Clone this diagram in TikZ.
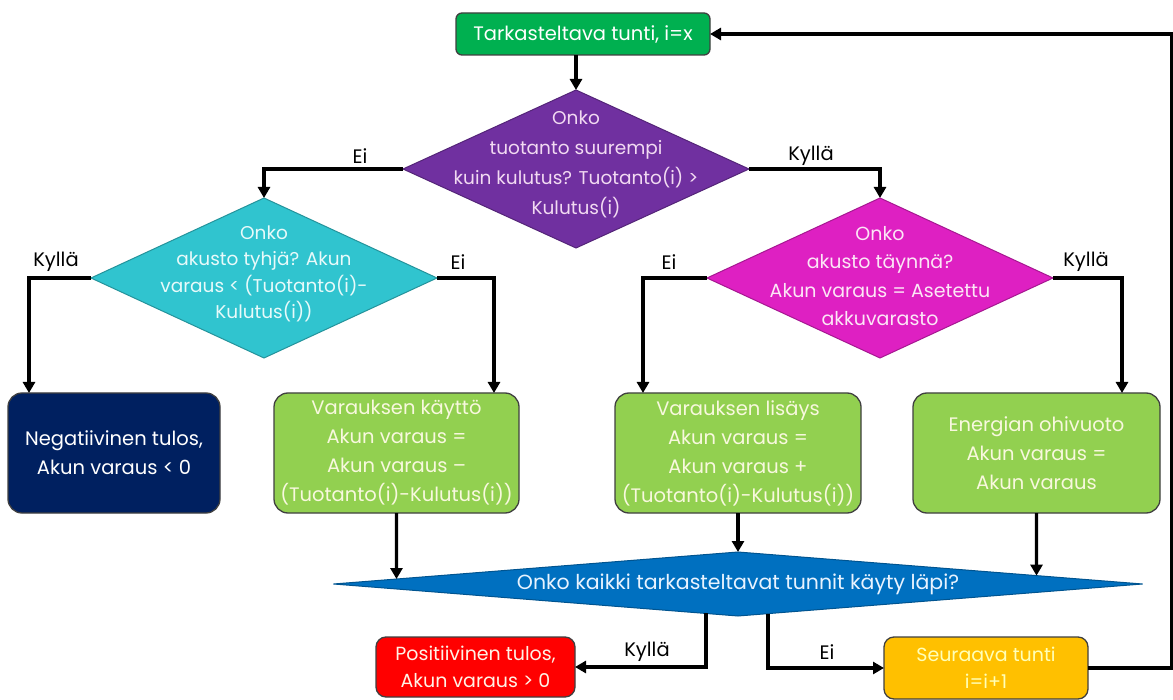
\documentclass[tikz,border=0pt]{standalone}
\usepackage{fontspec}
\setmainfont{Poppins}
\usetikzlibrary{shapes.geometric,arrows.meta,calc}
\definecolor{cStart}{HTML}{00B050}
\definecolor{cPurple}{HTML}{7030A0}
\definecolor{cCyan}{HTML}{30C4CF}
\definecolor{cPink}{HTML}{DE20C2}
\definecolor{cNavy}{HTML}{002060}
\definecolor{cLGreen}{HTML}{92D050}
\definecolor{cBlue}{HTML}{0070C0}
\definecolor{cRed}{HTML}{FF0000}
\definecolor{cOrange}{HTML}{FFC000}
\definecolor{tPurple}{HTML}{F2DAF2}
\definecolor{tCyan}{HTML}{E8FAFA}
\definecolor{tPink}{HTML}{FCE6F6}
\definecolor{tGreen}{HTML}{F8F8DE}
\definecolor{tRed}{HTML}{FFF2E6}
\definecolor{tOrange}{HTML}{FFFFB8}
\definecolor{tBlue}{HTML}{E8F3FF}
\begin{document}
\begin{tikzpicture}[x=1pt,y=-1pt,
  font=\fontsize{19.5}{29}\selectfont,
  arr/.style={line width=3.2pt, line join=miter, -{Triangle[length=11pt,width=12pt]}},
  box/.style={rectangle, rounded corners=14pt, draw=black!75, line width=1.3pt,
              inner sep=0pt, outer sep=0pt, align=center},
  dia/.style={diamond, inner sep=0pt, outer sep=0pt, draw=#1!75!black, fill=#1, line width=1pt},
  dtxt/.style={align=center, inner sep=0pt},
  lbl/.style={text=black, inner sep=0pt}]
\useasboundingbox (0,0) rectangle (1173,700);
\fill[white] (0,0) rectangle (1173,700);

% nodes
\node[box, fill=cStart, text=white, rounded corners=6pt, minimum width=254pt, minimum height=42pt] (start) at (583,34) {Tarkasteltava tunti, i=x};

\node[dia=cPurple, minimum width=346pt, minimum height=158pt] (d1) at (576,169) {};
\node[dtxt, text=tPurple, font=\fontsize{18.5}{30}\selectfont] (t1) at (576,164) {Onko\\tuotanto suurempi\\kuin kulutus? Tuotanto(i) >\\Kulutus(i)};

\node[dia=cCyan, minimum width=346pt, minimum height=160pt] (d2) at (264,278) {};
\node[dtxt, text=tCyan, font=\fontsize{18.5}{26.5}\selectfont] (t2) at (264,274) {Onko\\akusto tyhjä? Akun\\varaus < (Tuotanto(i)-\\Kulutus(i))};

\node[dia=cPink, minimum width=346pt, minimum height=160pt] (d3) at (880,278) {};
\node[dtxt, text=tPink, font=\fontsize{19}{28.5}\selectfont] (t3) at (880,276) {Onko\\akusto täynnä?\\Akun varaus = Asetettu\\akkuvarasto};

\node[box, fill=cNavy, text=white, minimum width=212pt, minimum height=120pt] (neg) at (114,453) {Negatiivinen tulos,\\Akun varaus < 0};

\node[box, fill=cLGreen, text=tGreen, minimum width=245pt, minimum height=120pt] (b1) at (396.5,453) {Varauksen käyttö\\Akun varaus =\\Akun varaus –\\(Tuotanto(i)-Kulutus(i))};

\node[box, fill=cLGreen, text=tGreen, minimum width=246pt, minimum height=120pt] (b2) at (738,453) {Varauksen lisäys\\Akun varaus =\\Akun varaus +\\(Tuotanto(i)-Kulutus(i))};

\node[box, fill=cLGreen, text=tGreen, minimum width=247pt, minimum height=120pt] (b3) at (1036.5,453) {Energian ohivuoto\\Akun varaus =\\Akun varaus};

\node[dia=cBlue, minimum width=809pt, minimum height=64pt] (d4) at (738,584) {};
\node[dtxt, text=tBlue, font=\fontsize{20.5}{29}\selectfont] (t4) at (738,584) {Onko kaikki tarkasteltavat tunnit käyty läpi?};

\node[box, fill=cRed, text=tRed, rounded corners=10pt, minimum width=199pt, minimum height=60pt, font=\fontsize{19}{27}\selectfont] (pos) at (475.5,667) {Positiivinen tulos,\\Akun varaus > 0};

\node[box, fill=cOrange, text=tOrange, rounded corners=10pt, minimum width=204pt, minimum height=62pt, font=\fontsize{19}{27}\selectfont] (next) at (986,668) {Seuraava tunti\\i=i+1};

% labels
\node[lbl] (l1) at (360,156) {Ei};
\node[lbl] (l2) at (811,156) {Kyllä};
\node[lbl] (l3) at (56,262) {Kyllä};
\node[lbl] (l4) at (458,262) {Ei};
\node[lbl] (l5) at (669,262) {Ei};
\node[lbl] (l6) at (1086,262) {Kyllä};
\node[lbl] (l7) at (647,652) {Kyllä};
\node[lbl] (l8) at (827,652) {Ei};

% coordinates on the blue diamond border
\coordinate (in1) at ($(d4.west)!0.1557!(d4.north)$);
\coordinate (in3) at ($(d4.north)!0.738!(d4.east)$);
\coordinate (outK) at ($(d4.south)!0.0791!(d4.west)$);
\coordinate (outE) at ($(d4.south)!0.0742!(d4.east)$);
\coordinate (c1) at (1171.5,668);
\coordinate (c2) at (1171.5,34);

% connectors
\draw[arr] (start.south -| d1.north) -- (d1.north);
\draw[arr] (d1.west) -| (d2.north);
\draw[arr] (d1.east) -| (d3.north);
\draw[arr] (d2.west) -| ([xshift=21pt]neg.north west);
\draw[arr] (d2.east) -| ([xshift=-25pt]b1.north east);
\draw[arr] (d3.west) -| ([xshift=28pt]b2.north west);
\draw[arr] (d3.east) -| ([xshift=-38pt]b3.north east);
\draw[arr] (b1.south) -- (in1);
\draw[arr] (b2.south) -- (d4.north);
\draw[arr] (b3.south) -- (in3);
\draw[arr] (outK) |- (pos.east);
\draw[arr] (outE) |- (next.west);
\draw[arr] (next.east) -- (c1) -- (c2) -- (start.east);
\end{tikzpicture}
\end{document}
